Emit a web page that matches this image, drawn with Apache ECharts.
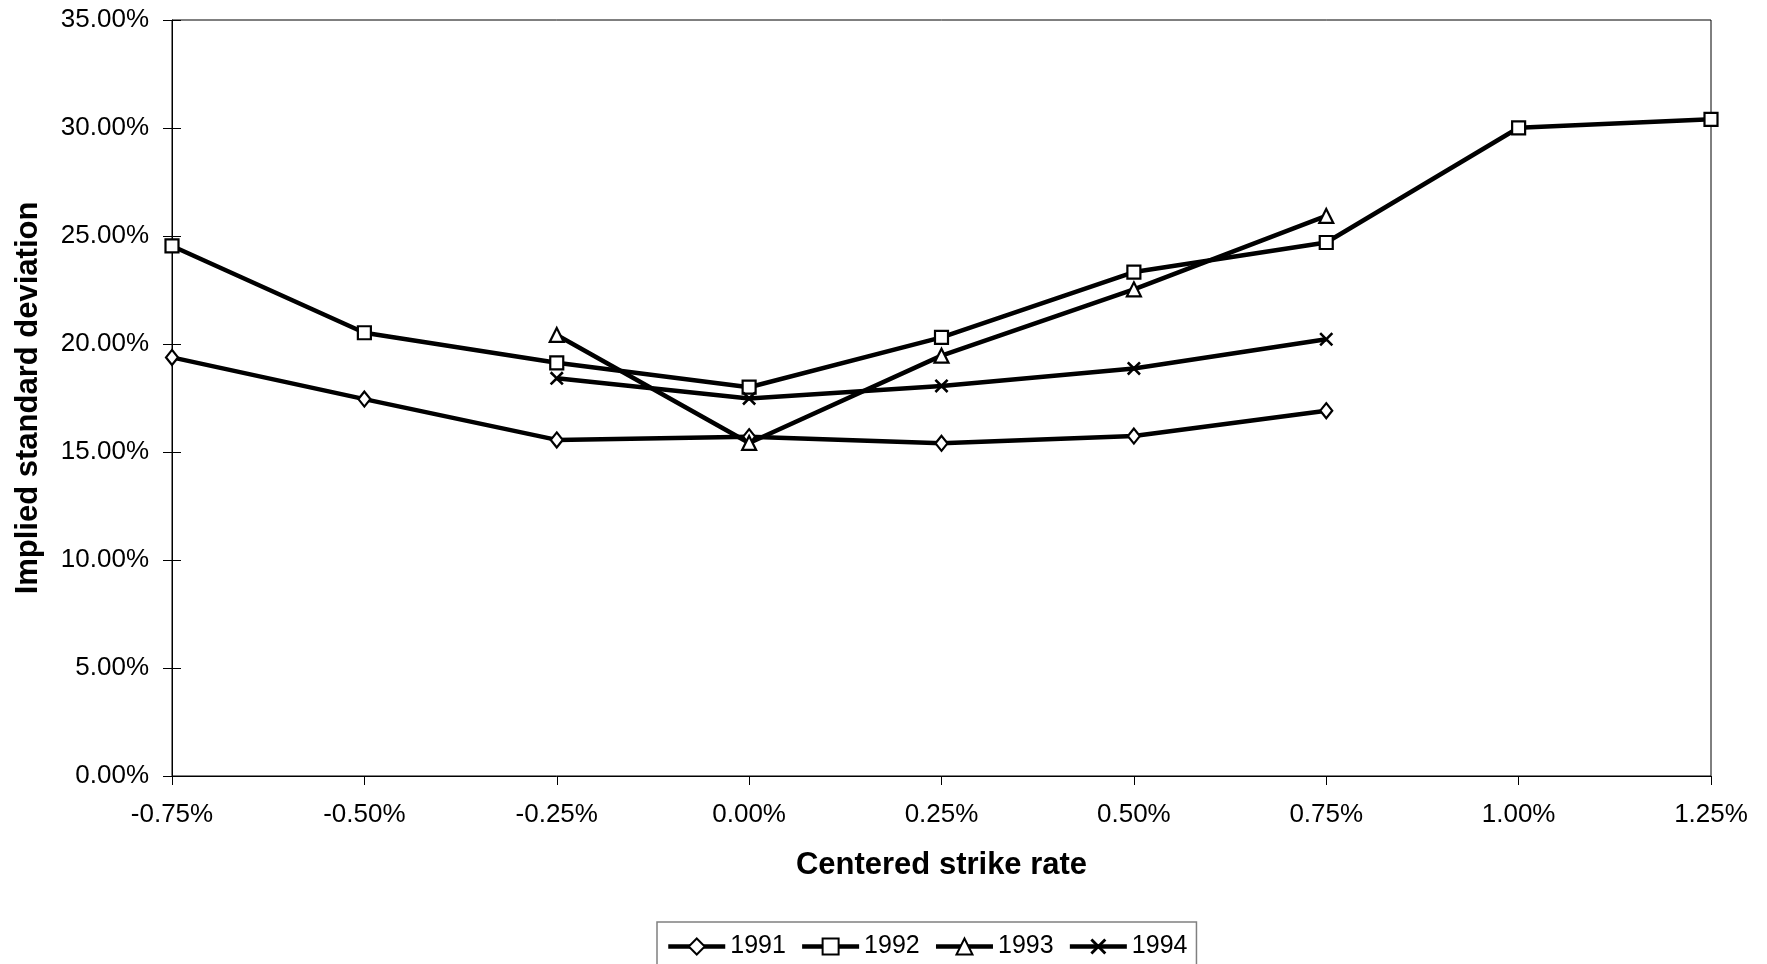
<!DOCTYPE html>
<html>
<head>
<meta charset="utf-8">
<script src="https://cdn.jsdelivr.net/npm/echarts@6/dist/echarts.min.js"></script>
<style>
  html, body { margin: 0; padding: 0; background: #fff; }
</style>
</head>
<body>
<div id="chart" style="width: 1767px;height:964px;"></div>
<script>
// centered strike rate (%) for each year
var strikes1991 = [-0.75, -0.5, -0.25, 0, 0.25, 0.5, 0.75]
var strikes1992 = [-0.75, -0.5, -0.25, 0, 0.25, 0.5, 0.75, 1.0, 1.25]
var strikes1993 = [-0.25, 0, 0.25, 0.5, 0.75]
var strikes1994 = [-0.25, 0, 0.25, 0.5, 0.75]

// implied standard deviation (%)
var vol1991 = [19.38, 17.45, 15.56, 15.71, 15.40, 15.74, 16.91]
var vol1992 = [24.54, 20.52, 19.13, 18.00, 20.31, 23.33, 24.70, 30.01, 30.40]
var vol1993 = [20.42, 15.42, 19.46, 22.53, 25.93]
var vol1994 = [18.41, 17.48, 18.06, 18.87, 20.22]

var years = ['1991', '1992', '1993', '1994']

function pairs(xs, ys) {
  var out = []
  for (var i = 0; i < xs.length; i++) {
    out.push([xs[i], ys[i]])
  }
  return out
}

var font = 'Arial, "Liberation Sans", sans-serif'
var crossPath = 'path://M0,1.3 L1.3,0 L5,3.7 L8.7,0 L10,1.3 L6.3,5 L10,8.7 L8.7,10 L5,6.3 L1.3,10 L0,8.7 L3.7,5 Z'

function lineSeries(name, data, symbol, size, isCross) {
  return {
    name: name,
    type: 'line',
    data: data,
    symbol: symbol,
    symbolSize: size,
    showSymbol: true,
    lineStyle: { color: '#000', width: 4.5 },
    itemStyle: isCross
      ? { color: '#000', borderWidth: 0 }
      : { color: '#fff', borderColor: '#000', borderWidth: 2.2 },
    emphasis: { disabled: true },
    animation: false
  }
}

var myChart = echarts.init(document.getElementById('chart'))

var option = {
  backgroundColor: '#fff',
  textStyle: { fontFamily: font },
  grid: {
    left: 172,
    right: 56,
    top: 20,
    bottom: 188,
    show: true,
    borderColor: '#000',
    borderWidth: 1
  },
  legend: {
    data: years,
    left: 657,
    top: 922,
    padding: [12, 9, 24, 9],
    itemGap: 14,
    itemWidth: 57,
    itemHeight: 20,
    borderColor: '#808080',
    borderWidth: 1.5,
    textStyle: { fontFamily: font, fontSize: 25, color: '#000' },
    lineStyle: { width: 4.5, color: '#000' }
  },
  xAxis: {
    type: 'value',
    min: -0.75,
    max: 1.25,
    interval: 0.25,
    name: 'Centered strike rate',
    nameLocation: 'middle',
    nameGap: 74,
    nameTextStyle: { fontFamily: font, fontSize: 31, fontWeight: 'bold', color: '#000' },
    axisLine: { show: true, onZero: false, lineStyle: { color: '#000', width: 1 } },
    axisTick: { show: true, inside: false, length: 9, lineStyle: { color: '#000' } },
    axisLabel: {
      fontFamily: font,
      fontSize: 26,
      color: '#000',
      margin: 26,
      formatter: function (v) { return v.toFixed(2) + '%' }
    },
    splitLine: { show: false }
  },
  yAxis: [
    {
      type: 'value',
      min: 0,
      max: 35,
      interval: 5,
      name: 'Implied standard deviation',
      nameLocation: 'middle',
      nameGap: 128,
      nameTextStyle: { fontFamily: font, fontSize: 31, fontWeight: 'bold', color: '#000' },
      axisLine: { show: true, onZero: false, lineStyle: { color: '#000', width: 1 } },
      axisTick: { show: true, inside: false, length: 9, lineStyle: { color: '#000' } },
      axisLabel: {
        fontFamily: font,
        fontSize: 26,
        color: '#000',
        margin: 23,
        formatter: function (v) { return v.toFixed(2) + '%' }
      },
      splitLine: { show: false }
    },
    {
      // second pass for the inner half of the crossing ticks
      type: 'value',
      position: 'left',
      min: 0,
      max: 35,
      interval: 5,
      axisLine: { show: false, onZero: false },
      axisTick: { show: true, inside: true, length: 9, lineStyle: { color: '#000' } },
      axisLabel: { show: false },
      splitLine: { show: false }
    }
  ],
  series: [
    lineSeries('1991', pairs(strikes1991, vol1991), 'diamond', [12, 15], false),
    lineSeries('1992', pairs(strikes1992, vol1992), 'rect', 13, false),
    lineSeries('1993', pairs(strikes1993, vol1993), 'triangle', 14, false),
    lineSeries('1994', pairs(strikes1994, vol1994), crossPath, 14, true)
  ]
}

myChart.setOption(option)

window.addEventListener('resize', function () {
  myChart.resize()
})
</script>
</body>
</html>
